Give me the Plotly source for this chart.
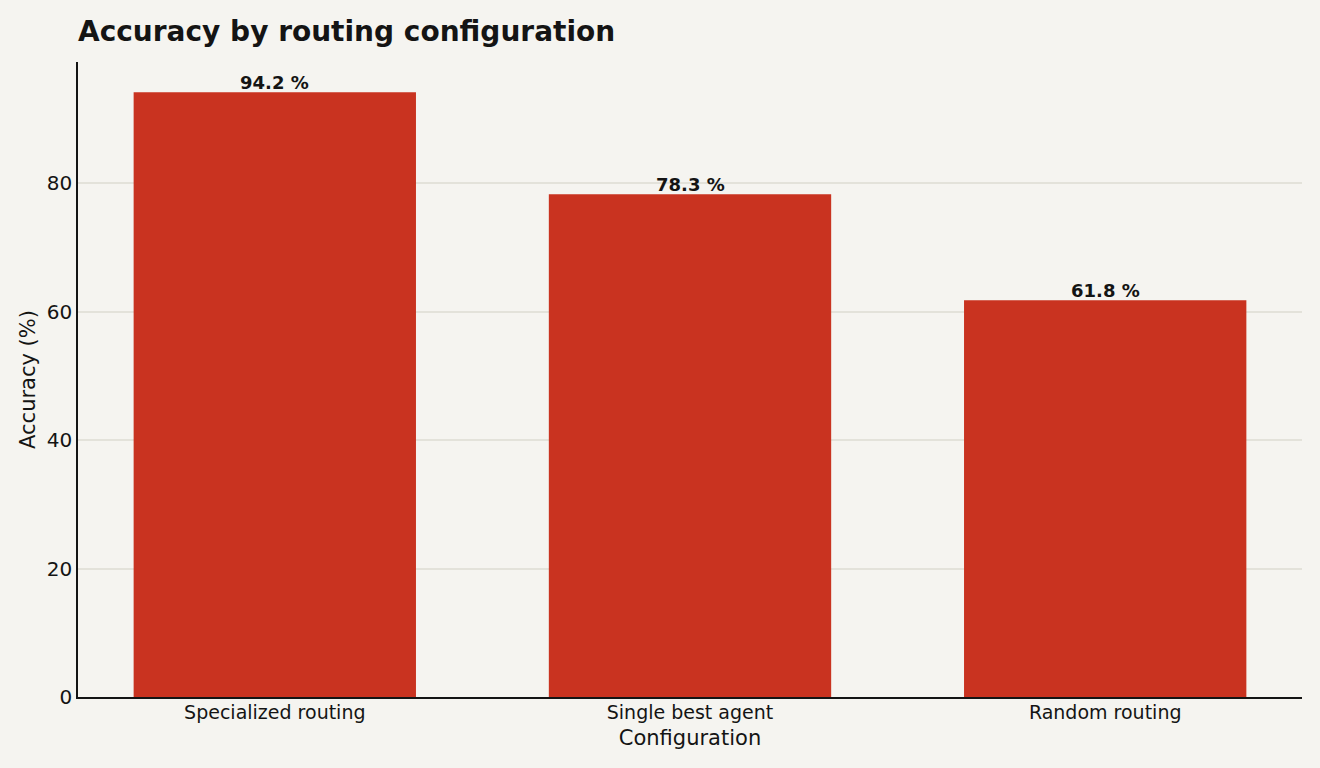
import plotly.graph_objects as go

# accuracy per routing configuration
configs = ["Specialized routing", "Single best agent", "Random routing"]
accuracy = [94.2, 78.3, 61.8]
labels = [f"{v} %" for v in accuracy]

BG = "#f5f4f0"
BAR = "#c93320"
INK = "#141414"

fig = go.Figure()

fig.add_trace(go.Bar(
    x=configs,
    y=accuracy,
    width=0.68,
    marker=dict(color=BAR, line=dict(width=0)),
    hoverinfo="x+y",
))

# value labels sit just above each bar
for cfg, val, lab in zip(configs, accuracy, labels):
    fig.add_annotation(
        x=cfg, y=val, text=f"<b>{lab}</b>",
        showarrow=False, yanchor="bottom", yshift=-3,
        font=dict(family="DejaVu Sans", size=18, color=INK),
    )

fig.update_layout(
    width=1320,
    height=768,
    paper_bgcolor=BG,
    plot_bgcolor=BG,
    font=dict(family="DejaVu Sans", color=INK),
    margin=dict(l=78, r=18, t=62, b=71),
    showlegend=False,
    title=dict(
        text="<b>Accuracy by routing configuration</b>",
        x=78 / 1320, xanchor="left",
        y=1 - 31 / 768, yanchor="middle",
        font=dict(size=28, color=INK),
    ),
    xaxis=dict(
        range=[-0.474, 2.474],
        showgrid=False,
        showline=True, linecolor=INK, linewidth=1.6,
        ticks="",
        ticklabelstandoff=-3,
        tickfont=dict(size=19, color=INK),
        title=dict(text="Configuration", font=dict(size=21, color=INK), standoff=9),
    ),
    yaxis=dict(
        range=[0, 98.9],
        dtick=20,
        showgrid=True, gridcolor="#e3e2da", gridwidth=1.5,
        zeroline=False,
        showline=True, linecolor=INK, linewidth=1.6,
        ticks="",
        tickfont=dict(size=20, color=INK),
        title=dict(text="Accuracy (%)", font=dict(size=21, color=INK), standoff=5),
    ),
)

fig.write_html(
    "out.html",
    config={"displayModeBar": False},
    post_script="document.body.style.margin='0';",
)
